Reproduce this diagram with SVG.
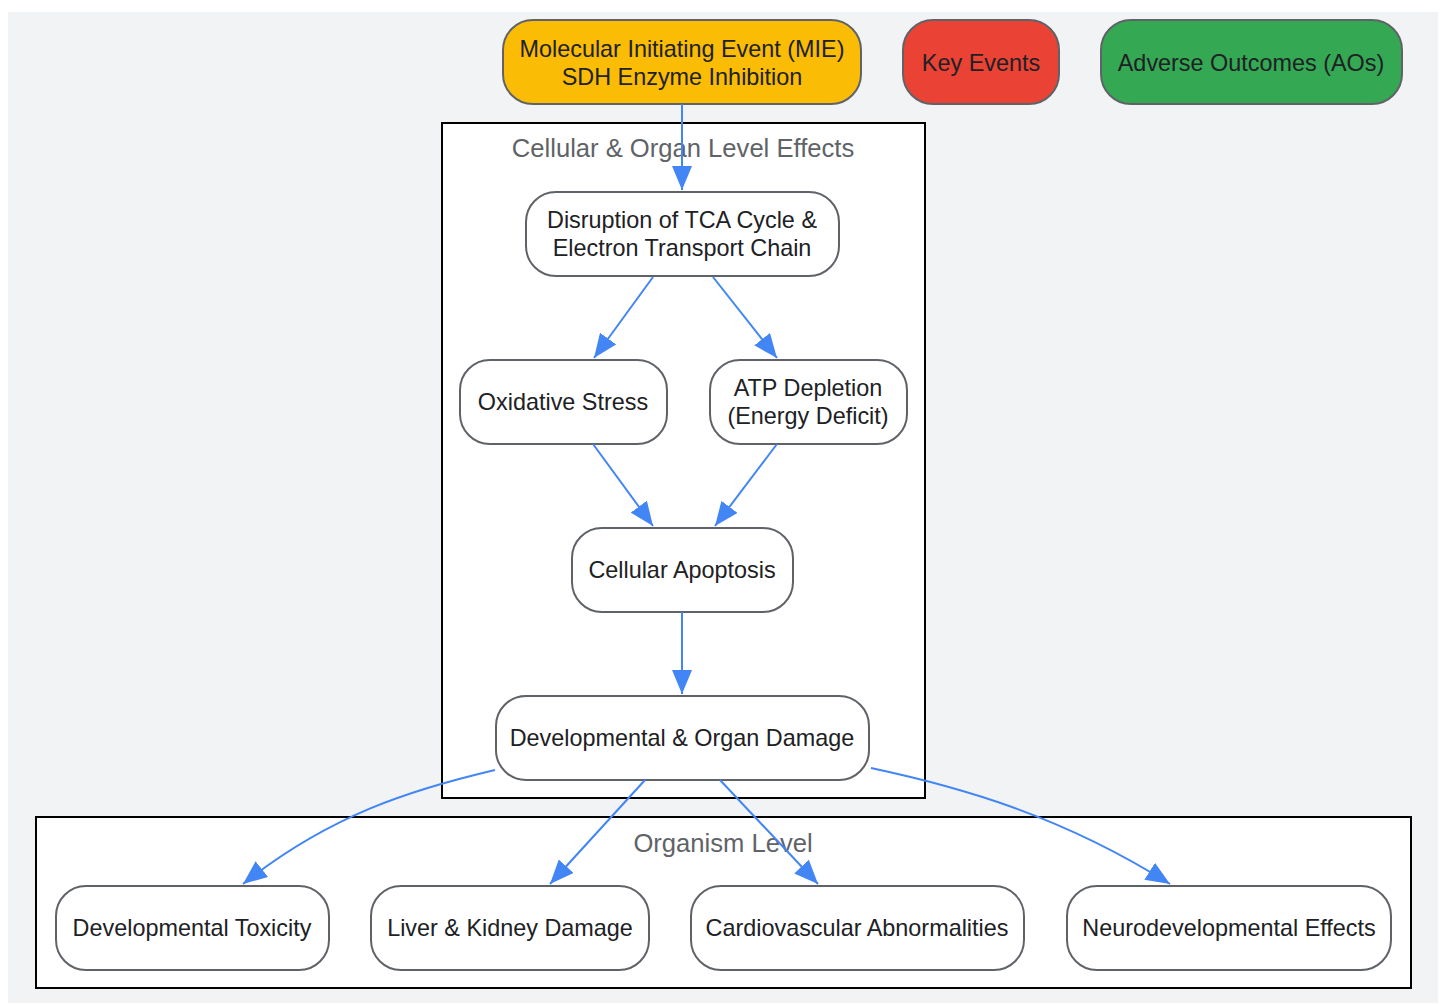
<svg xmlns="http://www.w3.org/2000/svg" width="1442" height="1005" viewBox="0 0 1442 1005">
<defs>
<marker id="arr" markerUnits="userSpaceOnUse" markerWidth="24" markerHeight="20" refX="24" refY="10" orient="auto">
<path d="M0,0 L24,10 L0,20 z" fill="#4285f4"/>
</marker>
<style>
.node rect{stroke:#5f6368;stroke-width:2;}
.w rect{fill:#ffffff;}
.t{font-family:"Liberation Sans",Arial,sans-serif;font-size:23.4px;fill:#202124;text-anchor:middle;}
.cl{fill:#ffffff;stroke:#000000;stroke-width:2;}
.cll{font-family:"Liberation Sans",Arial,sans-serif;font-size:25.6px;fill:#5f6368;text-anchor:middle;}
.e{fill:none;stroke:#4285f4;stroke-width:2;marker-end:url(#arr);}
</style>
</defs>
<rect x="8" y="12" width="1430" height="991" fill="#f1f3f5"/>
<g id="cluster-cellular">
<rect class="cl" x="442" y="123" width="483" height="675"/>
<text class="cll" x="683" y="157">Cellular &amp; Organ Level Effects</text>
</g>
<g id="cluster-organism">
<rect class="cl" x="36" y="817" width="1375" height="171"/>
<text class="cll" x="723" y="852">Organism Level</text>
</g>
<g id="mie" class="node"><rect x="503" y="20" width="358" height="84" rx="30" fill="#fbbc05"/>
<text class="t" x="682" y="57">Molecular Initiating Event (MIE)</text><text class="t" x="682" y="85">SDH Enzyme Inhibition</text></g>
<g id="key-events" class="node"><rect x="903" y="20" width="156" height="84" rx="30" fill="#ea4335"/>
<text class="t" x="981" y="71">Key Events</text></g>
<g id="adverse-outcomes" class="node"><rect x="1101" y="20" width="301" height="84" rx="30" fill="#34a853"/>
<text class="t" x="1251" y="71">Adverse Outcomes (AOs)</text></g>
<g id="disruption" class="node w"><rect x="526" y="192" width="313" height="84" rx="30"/>
<text class="t" x="682" y="228">Disruption of TCA Cycle &amp;</text><text class="t" x="682" y="256">Electron Transport Chain</text></g>
<g id="oxidative" class="node w"><rect x="460" y="360" width="207" height="84" rx="30"/>
<text class="t" x="563" y="410">Oxidative Stress</text></g>
<g id="atp" class="node w"><rect x="710" y="360" width="197" height="84" rx="30"/>
<text class="t" x="808" y="396">ATP Depletion</text><text class="t" x="808" y="424">(Energy Deficit)</text></g>
<g id="apoptosis" class="node w"><rect x="572" y="528" width="221" height="84" rx="30"/>
<text class="t" x="682" y="578">Cellular Apoptosis</text></g>
<g id="organ-damage" class="node w"><rect x="496" y="696" width="373" height="84" rx="30"/>
<text class="t" x="682" y="746">Developmental &amp; Organ Damage</text></g>
<g id="dev-tox" class="node w"><rect x="56" y="886" width="273" height="84" rx="30"/>
<text class="t" x="192" y="936">Developmental Toxicity</text></g>
<g id="liver" class="node w"><rect x="371" y="886" width="278" height="84" rx="30"/>
<text class="t" x="510" y="936">Liver &amp; Kidney Damage</text></g>
<g id="cardio" class="node w"><rect x="691" y="886" width="333" height="84" rx="30"/>
<text class="t" x="857" y="936">Cardiovascular Abnormalities</text></g>
<g id="neuro" class="node w"><rect x="1067" y="886" width="324" height="84" rx="30"/>
<text class="t" x="1229" y="936">Neurodevelopmental Effects</text></g>
<g id="connectors">
<path class="e" d="M682,104 L682,190"/>
<path class="e" d="M653,277 L594,358"/>
<path class="e" d="M713,277 L777,358"/>
<path class="e" d="M593,444 L653,526"/>
<path class="e" d="M777,444 L715,526"/>
<path class="e" d="M682,612 L682,694"/>
<path class="e" d="M495,770 C410,790 330,815 243,884"/>
<path class="e" d="M645,780 L550,884"/>
<path class="e" d="M720,780 L818,884"/>
<path class="e" d="M871,768 C960,787 1060,815 1170,884"/>
</g>
</svg>
